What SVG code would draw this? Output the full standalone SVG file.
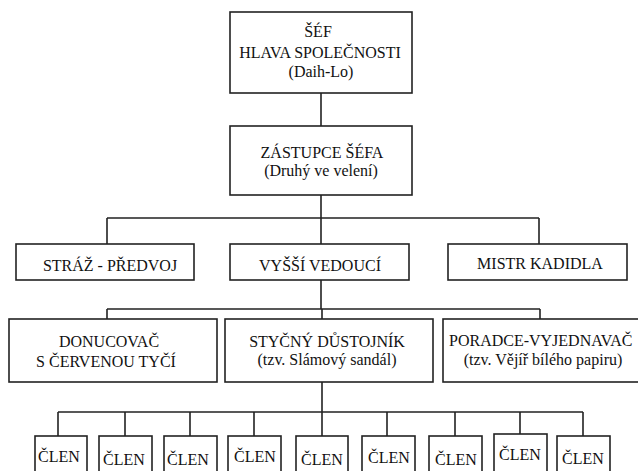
<svg xmlns="http://www.w3.org/2000/svg" width="638" height="471" viewBox="0 0 638 471">
<style>
.box{fill:#fff;stroke:#222;stroke-width:1.6}
.ln{fill:none;stroke:#222;stroke-width:1.6}
.t{font-family:'Liberation Serif','Times New Roman','DejaVu Serif',serif;font-size:16px;fill:#111;text-anchor:middle}
</style>
<rect width="638" height="471" fill="#fff"/>
<g id="connectors" class="ln">
<path d="M321,93V126M321,195V218M107,218H539M107,218V244M321,218V244M539,218V244"/>
<path d="M321,280V309M107,309H540M107,309V319M322,309V319M540,309V319"/>
<path d="M322,382V412M58,412H583M58,412V436M125,412V436M190,412V436M254,412V436M322,412V436M387,412V436M455,412V436M520,412V434M583,412V436"/>
</g>
<g class="t" font-family="Liberation Serif, serif">
<g id="sef"><rect class="box" x="230" y="12" width="182" height="81"/>
<text x="318" y="37">ŠÉF</text><text x="320" y="58">HLAVA SPOLEČNOSTI</text><text x="321" y="77">(Daih-Lo)</text></g>
<g id="zastupce"><rect class="box" x="230" y="126" width="182" height="69"/>
<text x="322" y="158">ZÁSTUPCE ŠÉFA</text><text x="321" y="176">(Druhý ve velení)</text></g>
<g id="straz"><rect class="box" x="16" y="244" width="178" height="36"/><text x="110" y="271">STRÁŽ - PŘEDVOJ</text></g>
<g id="vyssi"><rect class="box" x="230" y="244" width="179" height="36"/><text x="320" y="271">VYŠŠÍ VEDOUCÍ</text></g>
<g id="mistr"><rect class="box" x="448" y="244" width="179" height="36"/><text x="540" y="269">MISTR KADIDLA</text></g>
<g id="donucovac"><rect class="box" x="9" y="319" width="208" height="63"/>
<text x="109" y="347">DONUCOVAČ</text><text x="106" y="367">S ČERVENOU TYČÍ</text></g>
<g id="stycny"><rect class="box" x="225" y="319" width="208" height="63"/>
<text x="327" y="347">STYČNÝ DŮSTOJNÍK</text><text x="327" y="365">(tzv. Slámový sandál)</text></g>
<g id="poradce"><rect class="box" x="443" y="319" width="205" height="63"/>
<text x="449" y="346" text-anchor="start" style="text-anchor:start">PORADCE-VYJEDNAVAČ</text><text x="543" y="365">(tzv. Vějíř bílého papiru)</text></g>
<g id="clen1"><rect class="box" x="35" y="436" width="52" height="45"/><text x="59" y="462">ČLEN</text></g>
<g id="clen2"><rect class="box" x="99" y="436" width="53" height="45"/><text x="124" y="465">ČLEN</text></g>
<g id="clen3"><rect class="box" x="164" y="436" width="53" height="45"/><text x="188" y="465">ČLEN</text></g>
<g id="clen4"><rect class="box" x="228" y="436" width="53" height="45"/><text x="255" y="462">ČLEN</text></g>
<g id="clen5"><rect class="box" x="296" y="436" width="52" height="45"/><text x="322" y="465">ČLEN</text></g>
<g id="clen6"><rect class="box" x="362" y="436" width="53" height="45"/><text x="389" y="463">ČLEN</text></g>
<g id="clen7"><rect class="box" x="429" y="436" width="53" height="45"/><text x="456" y="465">ČLEN</text></g>
<g id="clen8"><rect class="box" x="494" y="434" width="53" height="47"/><text x="520" y="460">ČLEN</text></g>
<g id="clen9"><rect class="box" x="557" y="436" width="53" height="45"/><text x="583" y="464">ČLEN</text></g>
</g>
</svg>
